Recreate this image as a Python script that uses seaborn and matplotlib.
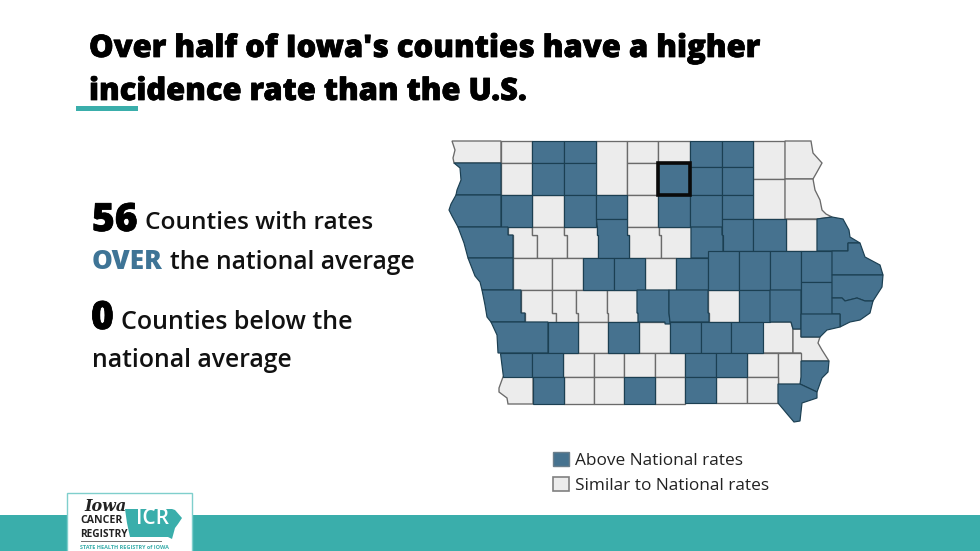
import matplotlib
matplotlib.use("Agg")
import matplotlib.pyplot as plt
import matplotlib.patheffects as pe
from matplotlib.patches import Polygon, Rectangle, Patch
import seaborn as sns

# ---------- text ----------
title_lines = ["Over half of Iowa\u2032s counties have a higher", "incidence rate than the U.S."]
above_count = "56"
similar_count = "0"
legend_labels = ["Above National rates", "Similar to National rates"]

# ---------- county status ----------
above_counties = [
    "Dickinson", "Emmet", "Mitchell", "Howard", "Sioux", "Clay", "Palo Alto", "Cerro Gordo", "Floyd",
    "Chickasaw", "Plymouth", "Cherokee", "Pocahontas", "Humboldt", "Franklin", "Butler", "Bremer",
    "Woodbury", "Webster", "Grundy", "Black Hawk", "Buchanan", "Dubuque", "Monona", "Greene", "Boone",
    "Marshall", "Tama", "Benton", "Linn", "Jones", "Jackson", "Harrison", "Polk", "Jasper", "Iowa",
    "Johnson", "Cedar", "Clinton", "Scott", "Pottawattamie", "Cass", "Madison", "Marion", "Mahaska",
    "Keokuk", "Muscatine", "Mills", "Montgomery", "Monroe", "Wapello", "Des Moines", "Page", "Decatur",
    "Appanoose", "Lee",
]
highlighted_county = "Cerro Gordo"

# ---------- county outlines (map geometry) ----------
def box(x0, y0, x1, y1):
    return [(x0, y0), (x1, y0), (x1, y1), (x0, y1)]

county_outlines = {
    "Lyon": [(452,141),(501,141),(501,163),(454,163),(453,158),(455,150)],
    "Osceola": box(501,141,532,163), "Dickinson": box(532,141,564,163), "Emmet": box(564,141,596,163),
    "Kossuth": box(596,141,627,195), "Winnebago": box(627,141,658,163), "Worth": box(658,141,690,163),
    "Mitchell": box(690,141,722,167), "Howard": box(722,141,753,167), "Winneshiek": box(753,141,785,179),
    "Allamakee": [(785,141),(811,141),(813,153),(822,163),(817,172),(813,179),(785,179)],
    "Sioux": [(454,163),(501,163),(501,195),(456,195),(457,190),(461,180),(460,168)],
    "O'Brien": box(501,163,532,195), "Clay": box(532,163,564,195), "Palo Alto": box(564,163,596,195),
    "Hancock": box(627,163,658,195), "Cerro Gordo": box(658,163,690,195),
    "Floyd": box(690,167,722,195), "Chickasaw": box(722,167,753,195), "Fayette": box(753,179,785,219),
    "Clayton": [(785,179),(813,179),(815,190),(820,200),(822,210),(826,214),(832,217),(817,219),(785,219)],
    "Plymouth": [(456,195),(501,195),(501,227),(458,227),(452,216),(449,210),(451,204)],
    "Cherokee": box(501,195,532,227), "Buena Vista": box(532,195,564,227), "Pocahontas": box(564,195,596,227),
    "Humboldt": box(596,195,627,219), "Wright": box(627,195,658,227), "Franklin": box(658,195,690,227),
    "Butler": box(690,195,722,227), "Bremer": box(722,195,753,219),
    "Woodbury": [(458,227),(508,227),(508,235),(513,235),(513,258),(468,258),(464,243)],
    "Ida": [(508,227),(532,227),(532,235),(537,235),(537,258),(513,258),(513,235),(508,235)],
    "Sac": [(532,227),(564,227),(564,235),(567,235),(567,258),(537,258),(537,235),(532,235)],
    "Calhoun": [(564,227),(597,227),(597,235),(598,235),(598,258),(567,258),(567,235),(564,235)],
    "Webster": [(596,219),(627,219),(627,235),(629,235),(629,258),(598,258),(598,235),(597,235),(597,227)],
    "Hamilton": [(627,227),(659,227),(659,235),(661,235),(661,258),(629,258),(629,235),(627,235)],
    "Hardin": [(659,227),(691,227),(691,258),(661,258),(661,235),(659,235)],
    "Grundy": [(691,227),(722,227),(722,235),(723,235),(723,251),(722,258),(691,258)],
    "Black Hawk": [(722,219),(753,219),(753,251),(723,251),(723,235),(722,235)],
    "Buchanan": box(753,219,786,251), "Delaware": box(786,219,817,251),
    "Dubuque": [(817,219),(832,217),(843,219),(849,230),(850,237),(860,243),(848,243),(848,251),(817,251)],
    "Monona": [(468,258),(513,258),(513,290),(482,290),(480,282),(475,276)],
    "Crawford": box(513,258,552,290), "Carroll": box(552,258,583,290), "Greene": box(583,258,614,290),
    "Boone": box(614,258,645,290), "Story": box(645,258,676,290), "Marshall": box(676,258,708,290),
    "Tama": [(708,251),(739,251),(739,290),(708,290)], "Benton": box(739,251,770,290),
    "Linn": box(770,251,801,290), "Jones": box(801,251,832,282),
    "Jackson": [(832,251),(848,251),(848,243),(860,243),(865,257),(880,265),(883,275),(832,275)],
    "Harrison": [(482,290),(521,290),(521,313),(525,313),(525,322),(491,322),(487,317),(485,305)],
    "Shelby": [(521,290),(552,290),(552,313),(556,313),(556,322),(525,322),(525,313),(521,313)],
    "Audubon": [(552,290),(576,290),(576,313),(578,313),(578,322),(556,322),(556,313),(552,313)],
    "Guthrie": [(576,290),(607,290),(607,313),(608,313),(608,322),(578,322),(578,313),(576,313)],
    "Dallas": [(607,290),(637,290),(637,313),(638,313),(638,322),(608,322),(608,313),(607,313)],
    "Polk": [(637,290),(669,290),(669,313),(670,322),(670,324),(665,324),(665,322),(638,322),(638,313),(637,313)],
    "Jasper": [(669,290),(708,290),(708,313),(709,313),(709,322),(670,322),(669,313)],
    "Poweshiek": [(708,290),(739,290),(739,322),(709,322),(709,313),(708,313)],
    "Iowa": box(739,290,770,322),
    "Johnson": [(770,290),(801,290),(801,329),(793,329),(791,322),(770,322)],
    "Cedar": box(801,282,832,314),
    "Clinton": [(832,275),(883,275),(882,287),(873,301),(865,301),(857,298),(845,301),(842,298),(832,298)],
    "Scott": [(832,298),(842,298),(845,301),(857,298),(865,301),(873,301),(870,313),(860,320),(850,322),(840,327),(840,314),(832,314)],
    "Pottawattamie": [(491,322),(548,322),(548,353),(498,353),(497,335)],
    "Cass": box(548,322,578,353), "Adair": box(578,322,608,353), "Madison": box(608,322,639,353),
    "Warren": box(639,322,670,353), "Marion": box(670,322,701,353), "Mahaska": box(701,322,731,353),
    "Keokuk": box(731,322,763,353),
    "Washington": [(763,322),(791,322),(793,329),(793,353),(763,353)],
    "Muscatine": [(801,314),(840,314),(840,327),(827,330),(820,337),(801,337)],
    "Louisa": [(793,329),(801,329),(801,337),(820,337),(818,343),(822,350),(829,361),(801,361),(801,353),(793,353)],
    "Mills": [(500,353),(532,353),(532,377),(503,377)],
    "Montgomery": box(532,353,563,377), "Adams": box(563,353,594,377), "Union": box(594,353,624,377),
    "Clarke": box(624,353,655,377), "Lucas": box(655,353,685,377), "Monroe": box(685,353,716,377),
    "Wapello": box(716,353,747,377), "Jefferson": box(747,353,778,377), "Henry": box(778,353,801,384),
    "Des Moines": [(801,361),(829,361),(828,372),(822,378),(817,392),(800,384),(801,377)],
    "Fremont": [(503,377),(533,377),(533,404),(508,404),(507,398),(499,392),(499,388)],
    "Page": box(533,377,564,404), "Taylor": box(564,377,594,404), "Ringgold": box(594,377,624,404),
    "Decatur": box(624,377,655,404), "Wayne": box(655,377,685,404), "Appanoose": box(685,377,716,403),
    "Davis": box(716,377,747,403), "Van Buren": box(747,377,778,403),
    "Lee": [(778,384),(800,384),(817,392),(817,398),(802,403),(800,421),(794,422),(788,415),(778,403)],
}

# ---------- theme ----------
sns.set_theme(style="white")
plt.rcParams["font.family"] = ["Open Sans", "DejaVu Sans"]
BLUE, LIGHT = sns.color_palette(["#46728f", "#ececec"])
TEAL = "#3aaeab"
INK = "#111111"
HEAVY = [pe.withStroke(linewidth=0.55, foreground="black")]

fig = plt.figure(figsize=(9.8, 5.51), dpi=100, facecolor="white")
ax = fig.add_axes([0, 0, 1, 1])
ax.set_xlim(0, 980)
ax.set_ylim(551, 0)
ax.axis("off")

# ---------- title ----------
ax.text(89, 57, title_lines[0], fontsize=22.3, fontweight=800, color="black", va="baseline", path_effects=HEAVY)
ax.text(89, 100, title_lines[1], fontsize=22.2, fontweight=800, color="black", va="baseline", path_effects=HEAVY)
ax.add_patch(Rectangle((76, 106), 62, 5, fc=TEAL, ec="none"))

# ---------- left statements ----------
ax.text(92, 231, above_count, fontsize=28, fontweight=800, color="black", va="baseline", path_effects=HEAVY)
ax.text(145, 229, "Counties with rates", fontsize=17.6, fontweight=600, color=INK, va="baseline")
ax.text(92, 269, "OVER", fontsize=18.8, fontweight=800, color="#3e7496", va="baseline")
ax.text(170, 269, "the national average", fontsize=17.7, fontweight=600, color=INK, va="baseline")
ax.text(91, 329, similar_count, fontsize=28, fontweight=800, color="black", va="baseline", path_effects=HEAVY)
ax.text(121, 329, "Counties below the", fontsize=18, fontweight=600, color=INK, va="baseline")
ax.text(92, 367, "national average", fontsize=17.8, fontweight=600, color=INK, va="baseline")

# ---------- map ----------
for name, outline in county_outlines.items():
    if name not in above_counties:
        ax.add_patch(Polygon(outline, closed=True, fc=LIGHT, ec="#6a6a6a", lw=0.95, joinstyle="miter"))
for name, outline in county_outlines.items():
    if name in above_counties:
        ax.add_patch(Polygon(outline, closed=True, fc=BLUE, ec="#1b3f52", lw=0.85, joinstyle="miter"))
ax.add_patch(Polygon(county_outlines[highlighted_county], closed=True, fc="none", ec="#0a0a0a", lw=2.6,
                     joinstyle="miter", zorder=5))

# ---------- legend ----------
handles = [Patch(fc=BLUE, ec="#6b7f8c", lw=1.0), Patch(fc=LIGHT, ec="#808080", lw=1.2)]
leg = ax.legend(handles, legend_labels, loc="upper left", bbox_to_anchor=(553, 452),
                bbox_transform=ax.transData, frameon=False, fontsize=12.45, handlelength=0.9, handleheight=0.9,
                handletextpad=0.4, labelspacing=0.45, borderpad=0, borderaxespad=0, labelcolor="#222222")

# ---------- footer and logo ----------
ax.add_patch(Rectangle((0, 515), 980, 36, fc=TEAL, ec="none"))
ax.add_patch(Rectangle((67, 493), 125, 60, fc="white", ec="#7fcfcc", lw=1.0, zorder=3))
iowa_logo = [(125,509),(172,509),(175,510),(182,518),(178,524),(175,528),(172,539),(168,537),(130,537),(127,523)]
ax.add_patch(Polygon(iowa_logo, closed=True, fc=TEAL, ec="none", zorder=4))
ax.text(152, 518.5, "ICR", fontsize=15, fontweight=600, color="white", ha="center", va="center", zorder=5)
ax.text(84, 511, "Iowa", fontsize=11.5, fontweight=700, style="italic", family="DejaVu Serif", color="#222222", ha="left", va="baseline", zorder=5)
ax.text(80, 523, "CANCER", fontsize=7.6, fontweight=700, color="#222222", ha="left", va="baseline", zorder=5)
ax.text(80, 537, "REGISTRY", fontsize=7.3, fontweight=700, color="#222222", ha="left", va="baseline", zorder=5)
ax.add_patch(Rectangle((81, 540.5), 81, 1.4, fc="#777777", ec="none", zorder=5))
ax.text(124, 549, "STATE HEALTH REGISTRY of IOWA", fontsize=4, fontweight=700, color=TEAL, ha="center", va="baseline", zorder=5)

fig.savefig("out.png", dpi=100, facecolor="white")
